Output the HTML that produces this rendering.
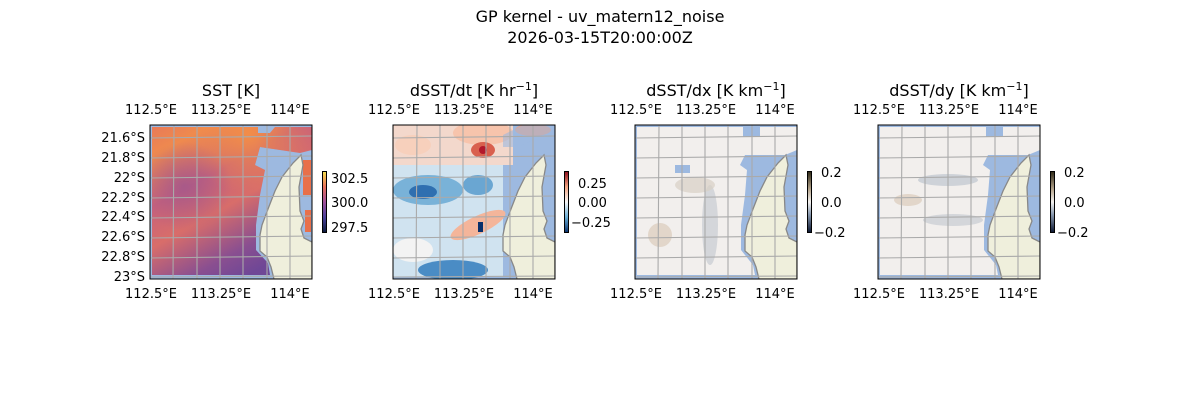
<!DOCTYPE html>
<html><head><meta charset="utf-8"><style>
body{margin:0;background:#fff;}
svg text{font-family:"DejaVu Sans","Liberation Sans",sans-serif;fill:#000}
</style></head><body>
<svg width="1200" height="400" viewBox="0 0 1200 400" xmlns="http://www.w3.org/2000/svg">
<defs>
<clipPath id="ax"><rect x="0" y="0" width="162" height="154"/></clipPath>
<linearGradient id="sst" x1="0" y1="0" x2="0.6" y2="1">
<stop offset="0" stop-color="#e87a58"/><stop offset="0.15" stop-color="#ef8a4e"/><stop offset="0.4" stop-color="#c8627a"/><stop offset="0.6" stop-color="#d86d6a"/><stop offset="0.85" stop-color="#8a4f90"/><stop offset="1" stop-color="#6f4796"/></linearGradient>
<radialGradient id="sst2" cx="0.6" cy="0.05" r="0.4"><stop offset="0" stop-color="#f59045" stop-opacity="0.9"/><stop offset="1" stop-color="#f59045" stop-opacity="0"/></radialGradient>
<radialGradient id="sst3" cx="0.2" cy="0.4" r="0.3"><stop offset="0" stop-color="#9a5590" stop-opacity="0.7"/><stop offset="1" stop-color="#9a5590" stop-opacity="0"/></radialGradient>
<linearGradient id="cb1" x1="0" y1="1" x2="0" y2="0"><stop offset="0" stop-color="#0b1a3a"/><stop offset="0.25" stop-color="#4a3f9a"/><stop offset="0.5" stop-color="#a0509a"/><stop offset="0.75" stop-color="#e8705a"/><stop offset="1" stop-color="#f5e050"/></linearGradient>
<linearGradient id="cb2" x1="0" y1="1" x2="0" y2="0"><stop offset="0" stop-color="#08306b"/><stop offset="0.25" stop-color="#6aaed6"/><stop offset="0.5" stop-color="#f7f7f7"/><stop offset="0.75" stop-color="#f4a582"/><stop offset="1" stop-color="#8b0a1a"/></linearGradient>
<linearGradient id="cb3" x1="0" y1="1" x2="0" y2="0"><stop offset="0" stop-color="#0a1530"/><stop offset="0.3" stop-color="#8a9ab0"/><stop offset="0.5" stop-color="#f4f2f0"/><stop offset="0.7" stop-color="#b8a890"/><stop offset="1" stop-color="#2e2816"/></linearGradient>
<g id="land">
<polygon points="151,30 143,38 132,52 125,66 118,84 112,100 110,110 110,126 117,132 121,142 124,154 162,154 162,117 154,113 151,104 154,96 150,86 149,62 153,40" fill="#efefdc" stroke="#888" stroke-width="1.3"/>
</g>
<g id="grid" stroke="#aaa" stroke-width="1.1" fill="none">
<path d="M24,0 L23,154 M47,0 L47,154 M70,0 L70,154 M93,0 L93,154 M117,0 L117,154 M140,0 L140,154"/>
<path d="M0,13 L162,11 M0,33 L162,31 M0,53 L162,51 M0,73 L162,71 M0,93 L162,91 M0,113 L162,111 M0,133 L162,131 M0,152 L162,151"/>
</g>
</defs>
<text x="600" y="22" font-size="16" text-anchor="middle">GP kernel - uv_matern12_noise</text>
<text x="600" y="43" font-size="16" text-anchor="middle">2026-03-15T20:00:00Z</text>

<!-- Panel 1 -->
<g transform="translate(150,125)">
<g clip-path="url(#ax)">
<rect width="162" height="154" fill="#9db9e0"/>
<path d="M2,2 L108,2 L108,8 L120,8 L125,2 L162,2 L162,25 L150,28 L110,22 L105,40 L115,45 L110,70 L106,100 L106,125 L118,138 L120,150 L2,150 Z" fill="url(#sst)"/>
<path d="M2,2 L108,2 L108,8 L120,8 L125,2 L162,2 L162,25 L150,28 L110,22 L105,40 L115,45 L110,70 L106,100 L106,125 L118,138 L120,150 L2,150 Z" fill="url(#sst2)"/>
<path d="M2,2 L108,2 L108,8 L120,8 L125,2 L162,2 L162,25 L150,28 L110,22 L105,40 L115,45 L110,70 L106,100 L106,125 L118,138 L120,150 L2,150 Z" fill="url(#sst3)"/>
<rect x="153" y="35" width="8" height="35" fill="#e8704a"/>
<rect x="155" y="85" width="6" height="22" fill="#e8704a"/>
<use href="#land"/><use href="#grid"/>
</g>
<rect width="162" height="154" fill="none" stroke="#000" stroke-width="1"/>
</g>
<g font-size="13">
<text x="231" y="96" font-size="16" text-anchor="middle">SST [K]</text>
<text x="151" y="114" text-anchor="middle">112.5°E</text><text x="221" y="114" text-anchor="middle">113.25°E</text><text x="290" y="114" text-anchor="middle">114°E</text>
<text x="151" y="298" text-anchor="middle">112.5°E</text><text x="221" y="298" text-anchor="middle">113.25°E</text><text x="290" y="298" text-anchor="middle">114°E</text>
<g text-anchor="end"><text x="145" y="142">21.6°S</text><text x="145" y="162">21.8°S</text><text x="145" y="182">22°S</text><text x="145" y="202">22.2°S</text><text x="145" y="221">22.4°S</text><text x="145" y="241">22.6°S</text><text x="145" y="261">22.8°S</text><text x="145" y="281">23°S</text></g>
</g>
<rect x="322.5" y="171.5" width="4" height="61" fill="url(#cb1)" stroke="#000" stroke-width="1"/>
<g font-size="13"><text x="331" y="183">302.5</text><text x="331" y="207">300.0</text><text x="331" y="232">297.5</text></g>

<!-- Panel 2 -->
<g transform="translate(393,125)">
<g clip-path="url(#ax)">
<rect width="162" height="154" fill="#9db9e0"/>
<rect x="0" y="0" width="120" height="40" fill="#f3d8cc"/>
<rect x="0" y="40" width="110" height="112" fill="#d0e3f0"/>
<ellipse cx="90" cy="8" rx="30" ry="12" fill="#f7c4ac"/>
<ellipse cx="90" cy="25" rx="12" ry="8" fill="#d9604e"/>
<ellipse cx="90" cy="25" rx="4" ry="4" fill="#b2182b"/>
<ellipse cx="140" cy="5" rx="18" ry="6" fill="#f0a080"/>
<ellipse cx="20" cy="20" rx="18" ry="10" fill="#f7d0bc"/>
<ellipse cx="35" cy="65" rx="35" ry="15" fill="#79b2d8"/>
<ellipse cx="30" cy="67" rx="14" ry="7" fill="#2f6fb0"/>
<ellipse cx="85" cy="60" rx="15" ry="10" fill="#6aa6d2"/>
<ellipse cx="85" cy="100" rx="30" ry="9" fill="#f4b59a" transform="rotate(-25 85 100)"/>
<ellipse cx="60" cy="145" rx="35" ry="10" fill="#4a8cc5"/>
<ellipse cx="20" cy="125" rx="20" ry="12" fill="#f3f3f3"/>
<rect x="85" y="97" width="5" height="10" fill="#08306b"/>
<path d="M110,22 L125,22 L140,15 L162,15 L162,0 L130,0 L110,10 Z" fill="#9db9e0" opacity="0.6"/>
<use href="#land"/><use href="#grid"/>
</g>
<rect width="162" height="154" fill="none" stroke="#000"/>
</g>
<g font-size="13">
<text x="474" y="96" font-size="16" text-anchor="middle">dSST/dt [K hr<tspan dy="-6" font-size="11">−1</tspan><tspan dy="6">]</tspan></text>
<text x="394" y="114" text-anchor="middle">112.5°E</text><text x="464" y="114" text-anchor="middle">113.25°E</text><text x="533" y="114" text-anchor="middle">114°E</text>
<text x="394" y="298" text-anchor="middle">112.5°E</text><text x="464" y="298" text-anchor="middle">113.25°E</text><text x="533" y="298" text-anchor="middle">114°E</text>
</g>
<rect x="564.5" y="171.5" width="4" height="61" fill="url(#cb2)" stroke="#000"/>
<g font-size="13"><text x="578" y="188">0.25</text><text x="578" y="207">0.00</text><text x="571" y="227">−0.25</text></g>

<!-- Panel 3 -->
<g transform="translate(635,125)">
<g clip-path="url(#ax)">
<rect width="162" height="154" fill="#9db9e0"/>
<path d="M2,2 L108,2 L108,12 L125,12 L125,2 L162,2 L162,25 L150,30 L110,30 L105,40 L112,45 L110,70 L106,100 L106,125 L118,140 L120,150 L2,150 Z" fill="#f2efed"/>
<ellipse cx="75" cy="100" rx="8" ry="40" fill="#c8ccd2" opacity="0.7"/>
<ellipse cx="60" cy="60" rx="20" ry="8" fill="#d8d0c4" opacity="0.7"/>
<ellipse cx="25" cy="110" rx="12" ry="12" fill="#ddd0c0" opacity="0.8"/>
<rect x="40" y="40" width="15" height="8" fill="#9db9e0"/>
<use href="#land"/><use href="#grid"/>
</g>
<rect width="162" height="154" fill="none" stroke="#000"/>
</g>
<g font-size="13">
<text x="716" y="96" font-size="16" text-anchor="middle">dSST/dx [K km<tspan dy="-6" font-size="11">−1</tspan><tspan dy="6">]</tspan></text>
<text x="636" y="114" text-anchor="middle">112.5°E</text><text x="706" y="114" text-anchor="middle">113.25°E</text><text x="775" y="114" text-anchor="middle">114°E</text>
<text x="636" y="298" text-anchor="middle">112.5°E</text><text x="706" y="298" text-anchor="middle">113.25°E</text><text x="775" y="298" text-anchor="middle">114°E</text>
</g>
<rect x="807.5" y="171.5" width="4" height="61" fill="url(#cb3)" stroke="#000"/>
<g font-size="13"><text x="821" y="177">0.2</text><text x="821" y="207">0.0</text><text x="814" y="237">−0.2</text></g>

<!-- Panel 4 -->
<g transform="translate(878,125)">
<g clip-path="url(#ax)">
<rect width="162" height="154" fill="#9db9e0"/>
<path d="M2,2 L108,2 L108,12 L125,12 L125,2 L162,2 L162,25 L150,30 L110,30 L105,40 L112,45 L110,70 L106,100 L106,125 L118,140 L120,150 L2,150 Z" fill="#f2efed"/>
<ellipse cx="70" cy="55" rx="30" ry="6" fill="#c4cad2" opacity="0.8"/>
<ellipse cx="75" cy="95" rx="30" ry="6" fill="#c8ccd2" opacity="0.7"/>
<ellipse cx="30" cy="75" rx="14" ry="6" fill="#ddd0c0" opacity="0.8"/>
<use href="#land"/><use href="#grid"/>
</g>
<rect width="162" height="154" fill="none" stroke="#000"/>
</g>
<g font-size="13">
<text x="959" y="96" font-size="16" text-anchor="middle">dSST/dy [K km<tspan dy="-6" font-size="11">−1</tspan><tspan dy="6">]</tspan></text>
<text x="879" y="114" text-anchor="middle">112.5°E</text><text x="949" y="114" text-anchor="middle">113.25°E</text><text x="1018" y="114" text-anchor="middle">114°E</text>
<text x="879" y="298" text-anchor="middle">112.5°E</text><text x="949" y="298" text-anchor="middle">113.25°E</text><text x="1018" y="298" text-anchor="middle">114°E</text>
</g>
<rect x="1050.5" y="171.5" width="4" height="61" fill="url(#cb3)" stroke="#000"/>
<g font-size="13"><text x="1064" y="177">0.2</text><text x="1064" y="207">0.0</text><text x="1057" y="237">−0.2</text></g>
</svg>
</body></html>
